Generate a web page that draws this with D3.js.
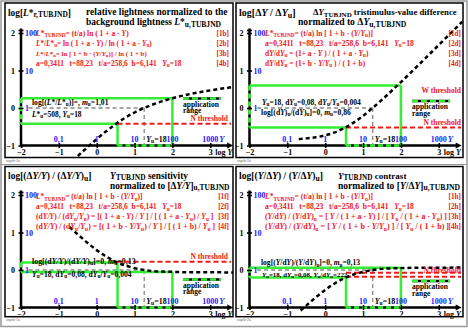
<!DOCTYPE html>
<html>
<head>
<meta charset="utf-8">
<script src="https://cdn.jsdelivr.net/npm/d3@7"></script>
<style>
  body { margin: 0; background: #fff; }
  svg text { font-family: "Liberation Serif", "Times New Roman", serif; font-weight: bold; white-space: pre; }
</style>
</head>
<body>
<div id="chart"></div>
<script>
// axis ticks and labels
const logTicks = [-2, -1, 0, 1, 2, 3];
const valueTicks = [-1, 0, 1, 2];
const blueXTicks = [-1, 0, 1, 2, 3];
const blueXLabels = ['0,1', '1', '10', '100', '1000'];
const blueYTicks = [0, 1, 2];
const blueYLabels = ['1', '10', '100'];
const logYu = 1.255;              // Yu = 18
const appRange = [0.55, 2.0];     // logY of application range

// curves [logY, value]
const lightnessCurve = [[-0.5, -1.28], [-0.25, -1.05], [0, -0.83], [0.25, -0.62], [0.5, -0.43], [0.75, -0.26],
  [1, -0.12], [1.25, 0], [1.5, 0.1], [2, 0.26], [2.5, 0.38], [3, 0.47], [3.62, 0.56]];
const differenceCurve = [[-0.7, -0.83], [-0.5, -0.81], [-0.25, -0.78], [0, -0.73], [0.25, -0.65], [0.5, -0.54],
  [0.75, -0.39], [1, -0.21], [1.25, 0], [1.5, 0.22], [2, 0.69], [2.5, 1.18], [3, 1.68], [3.62, 2.3]];
const sensitivityCurve = [[-0.72, 1.15], [-0.5, 0.95], [-0.25, 0.73], [0, 0.53], [0.25, 0.36], [0.5, 0.22],
  [0.75, 0.12], [1, 0.05], [1.25, 0], [1.5, -0.03], [2, -0.05], [2.5, -0.06], [3, -0.06], [3.62, -0.07]];
const contrastCurve = [[-0.65, -1.08], [-0.5, -0.95], [-0.25, -0.73], [0, -0.53], [0.25, -0.36], [0.5, -0.22],
  [0.75, -0.12], [1, -0.05], [1.25, 0], [1.5, 0.03], [2, 0.05], [2.5, 0.06], [3, 0.06], [3.62, 0.07]];

// green band levels at the two ends of the application range
const lightnessBand = [-0.42, 0.26];
const differenceBand = [-0.52, 0.6];
const sensitivityBand = [0.2, -0.05];
const contrastBand = [-0.2, 0.06];

// red threshold levels
const lightnessN = [-0.42];
const differenceN = [-0.52];
const sensitivityN = [0.22];
const contrastN = [-0.07, -0.18];

const abc = 'a=0,3411   t=88,23   t/a=258,6  b=6,141   <i>Y</i><sub>u</sub>=18';
const lstarB = '<i>L</i>*<sub>TUBJND</sub>= (t/a) ln [ 1 + b · (<i>Y</i>/<i>Y</i><sub>u</sub>)]';

// layout: [x, text, fitted width]
const panels = [
  {
    id: 'tl', frame: [5, 3, 228, 154.5], ax: 21, y0: 108, tag: 'ospth-1a',
    curve: lightnessCurve, band: lightnessBand, nLevels: lightnessN,
    title: ['log[<i>L</i>*<sub>r,TUBJND</sub>]', 63],
    head: [[86, 'relative lightness normalized to the', 141.7], [86, 'background lightness <i>L</i>*<sub>u,TUBJND</sub>', 135.7]],
    fx: 36, tx: 229,
    formulas: [
      ['<i>L</i>*<sub>TUBJND</sub>= (t/a) ln ( 1 + a · <i>Y</i>)', '[1b]', 94.3],
      ['<i>L</i>*/<i>L</i>*<sub>u</sub>= ln ( 1 + a · <i>Y</i>) / ln ( 1 + a · <i>Y</i><sub>u</sub>)', '[2b]', 117.3],
      ['<i>L</i>*/<i>L</i>*<sub>u</sub>= ln [ 1 + b · (<i>Y</i>/<i>Y</i><sub>u</sub>)] / ln ( 1 + b)', '[3b]', 112.3],
      [abc, '[4b]', 145.7]
    ],
    notes: [[32, 104.5, 'log[(<i>L</i>*/<i>L</i>*<sub>u</sub>)]=, <i>m</i><sub>u</sub>=1,01', 76.6],
            [32, 117, '<i>L</i>*<sub>u</sub>=508, <i>Y</i><sub>u</sub>=18', 50.7]],
    legend: [183, 98.5], labels: [[228, 121, 'N threshold']]
  },
  {
    id: 'tr', frame: [236, 3, 227, 154.5], ax: 249.5, y0: 108, tag: 'ospth-2a',
    curve: differenceCurve, band: differenceBand, nLevels: differenceN,
    title: ['log[Δ<i>Y</i> / Δ<i>Y</i><sub>u</sub>]', 56.7],
    head: [[313, 'Δ<i>Y</i><sub>TUBJND</sub> tristimulus-value difference', 143.7], [298, 'normalized to Δ<i>Y</i><sub>u,TUBJND</sub>', 109]],
    fx: 265, tx: 461,
    formulas: [
      [lstarB, '[1d]', 109],
      [abc, '[2d]', 149],
      ['d<i>Y</i>/d<i>Y</i><sub>u</sub> = (1+ a · <i>Y</i> ) / ( 1 + a · <i>Y</i><sub>u</sub>)', '[3d]', 104],
      ['d<i>Y</i>/d<i>Y</i><sub>u</sub> = (1+ b · <i>Y</i>/<i>Y</i><sub>u</sub> ) / ( 1 + b)', '[4d]', 100.7]
    ],
    notes: [[262, 104.7, '<i>Y</i><sub>u</sub>=18, d<i>Y</i><sub>u</sub>=0,08, d<i>Y</i><sub>u</sub>/<i>Y</i><sub>u</sub>=0,004', 99],
            [261, 114.5, 'log[(d<i>Y</i>)<sub>u</sub>/(d<i>Y</i>)<sub>u</sub>]=0, <i>m</i><sub>u</sub>=0,86', 90]],
    legend: [412, 101], labels: [[461, 92.7, 'W threshold'], [461, 125.3, 'N threshold']]
  },
  {
    id: 'bl', frame: [5, 166.5, 228, 150.2], ax: 21, y0: 270, tag: 'ospth-1a',
    curve: sensitivityCurve, band: sensitivityBand, nLevels: sensitivityN,
    title: ['log[(Δ<i>Y/Y</i>) / (Δ<i>Y/Y</i>)<sub>u</sub>]', 83.4],
    head: [[110, '<i>Y</i><sub>TUBJND</sub> sensitivity', 78.3], [110, 'normalized to [Δ<i>Y/Y</i>]<sub>u,TUBJND</sub>', 120]],
    fx: 36, tx: 229,
    formulas: [
      [lstarB, '[1f]', 107.7],
      [abc, '[2f]', 145.7],
      ['(d<i>Y/Y</i>) / (d<i>Y</i><sub>u</sub>/<i>Y</i><sub>u</sub>) = [( 1 + a · <i>Y</i>) / <i>Y</i> ] / [ ( 1 + a · <i>Y</i><sub>u</sub>) / <i>Y</i><sub>u</sub> ]', '[3f]', 177.3],
      ['(d<i>Y/Y</i>) / (d<i>Y</i><sub>u</sub>/<i>Y</i><sub>u</sub>) = [( 1 + b · <i>Y</i>/<i>Y</i><sub>u</sub>) / <i>Y</i> ] / [ ( 1 + b) / <i>Y</i><sub>u</sub> ]', '[4f]', 179]
    ],
    notes: [[32, 263.5, 'log[(d<i>Y/Y</i>)/(d<i>Y/Y</i>)<sub>u</sub>]=0, <i>m</i><sub>u</sub>=0,13', 104],
            [32, 276.7, '<i>Y</i><sub>u</sub>=18, d<i>Y</i><sub>u</sub>=0,08, d<i>Y</i><sub>u</sub>/<i>Y</i><sub>u</sub>=0,004', 99.7]],
    legend: [183, 279.5], labels: [[228, 259.3, 'N threshold']]
  },
  {
    id: 'br', frame: [236, 166.5, 227, 150.2], ax: 249.5, y0: 270, tag: 'ospth-2a',
    curve: contrastCurve, band: contrastBand, nLevels: contrastN,
    title: ['log[(<i>Y</i>/Δ<i>Y</i>) / (<i>Y</i>/Δ<i>Y</i>)<sub>u</sub>]', 84],
    head: [[338, '<i>Y</i><sub>TUBJND</sub> contrast', 69.3], [338, 'normalized to [<i>Y</i>/Δ<i>Y</i>]<sub>u,TUBJND</sub>', 122.7]],
    fx: 265, tx: 461,
    formulas: [
      [lstarB, '[1h]', 109],
      [abc, '[2h]', 149],
      ['(<i>Y</i>/d<i>Y</i>) / (<i>Y</i>/d<i>Y</i>)<sub>u</sub> = [ <i>Y</i> / ( 1 + a · <i>Y</i>) ] / [ <i>Y</i><sub>u</sub> / ( 1 + a · <i>Y</i><sub>u</sub>) ]', '[3h]', 182],
      ['(<i>Y</i>/d<i>Y</i>) / (<i>Y</i>/d<i>Y</i>)<sub>u</sub> = [ <i>Y</i> / ( 1 + b · <i>Y</i>/<i>Y</i><sub>u</sub>) ] / [ <i>Y</i><sub>u</sub> / ( 1 + b) ]', '[4h]', 184]
    ],
    notes: [[261, 265, 'log[(<i>Y</i>/d<i>Y</i>)/(<i>Y</i>/d<i>Y</i>)<sub>u</sub>]=0, <i>m</i><sub>u</sub>=0,13', 99.3],
            [262, 276.5, '<i>Y</i><sub>u</sub>=18, d<i>Y</i><sub>u</sub>=0,08, <i>Y</i><sub>u</sub>/d<i>Y</i><sub>u</sub>=222', 85.6]],
    legend: [412, 281], labels: [[461, 273.3, 'N threshold']]
  }
];

const UNIT_X = 37.85;
const UNIT_Y = 37.5;
const GREEN = '#33ee33';
const RED = '#f01818';
const BLUE = '#2020ff';

const svg = d3.select('#chart').append('svg').attr('width', 468).attr('height', 328);

svg.append('rect')
  .attr('x', 1).attr('y', 1).attr('width', 466).attr('height', 325.5)
  .attr('fill', 'none').attr('stroke', '#999').attr('stroke-width', 1.5);
svg.append('line')
  .attr('x1', 1).attr('x2', 467).attr('y1', 164.5).attr('y2', 164.5)
  .attr('stroke', '#999').attr('stroke-width', 1.2);

// text with <i> and <sub> markup
function rich(sel, str, size, subRatio) {
  const parts = str.split(/(<\/?(?:i|sub)>)/).filter(s => s !== '');
  let ital = false;
  let sub = false;
  let shift = 0;
  sel.style('font-size', size + 'px');
  parts.forEach(p => {
    if (p === '<i>') ital = true;
    else if (p === '</i>') ital = false;
    else if (p === '<sub>') sub = true;
    else if (p === '</sub>') sub = false;
    else {
      const want = sub ? size * 0.2 : 0;
      sel.append('tspan')
        .attr('dy', want - shift)
        .style('font-style', ital ? 'italic' : 'normal')
        .style('font-size', (sub ? size * subRatio : size) + 'px')
        .text(p);
      shift = want;
    }
  });
  return sel;
}

// fitW: squeeze or stretch the font so the text spans the width seen in the picture
function label(g, x, y, str, size, color, anchor, fitW, subRatio) {
  const ratio = subRatio || 0.7;
  const t = g.append('text')
    .attr('x', x).attr('y', y)
    .attr('fill', color || '#000')
    .attr('text-anchor', anchor || 'start');
  rich(t, str, size, ratio);
  if (fitW) {
    const w = t.node().getBBox().width;
    if (w > 0) {
      t.selectAll('tspan').remove();
      rich(t, str, size * fitW / w, ratio);
    }
  }
  return t;
}

function drawPanel(p) {
  const g = svg.append('g');
  const [fx, fy, fw, fh] = p.frame;
  const x = d3.scaleLinear().domain([-2, 3]).range([p.ax, p.ax + 5 * UNIT_X]);
  const y = d3.scaleLinear().domain([-1, 2]).range([p.y0 + UNIT_Y, p.y0 - 2 * UNIT_Y]);

  g.append('clipPath').attr('id', 'clip-' + p.id)
    .append('rect').attr('x', fx).attr('y', fy).attr('width', fw).attr('height', fh);

  g.append('rect')
    .attr('x', fx).attr('y', fy).attr('width', fw).attr('height', fh)
    .attr('fill', 'none').attr('stroke', '#000').attr('stroke-width', 1.5);

  g.append('text')
    .attr('x', fx + 1).attr('y', fy + fh + 4.5)
    .attr('fill', '#666').style('font-size', '4px').style('font-weight', 'normal')
    .text(p.tag);

  // axis lines
  g.append('line')
    .attr('x1', x(-2)).attr('x2', x(3.5)).attr('y1', y(-1)).attr('y2', y(-1))
    .attr('stroke', '#000').attr('stroke-width', 2.5);
  g.append('path')
    .attr('d', `M${x(3.5) + 4},${y(-1)} l-6,-3 l0,6 z`).attr('fill', '#000');
  g.append('line')
    .attr('x1', x(-2)).attr('x2', x(-2)).attr('y1', y(-1)).attr('y2', y(2.12))
    .attr('stroke', '#000').attr('stroke-width', 2.5);

  // gray reference lines at Yu
  const gray = g.append('g').attr('stroke', '#888').attr('stroke-width', 1.3)
    .attr('stroke-dasharray', '4,3').attr('fill', 'none');
  gray.append('line').attr('x1', x(-1.8)).attr('x2', x(logYu)).attr('y1', y(0)).attr('y2', y(0));
  gray.append('line').attr('x1', x(logYu)).attr('x2', x(logYu)).attr('y1', y(0)).attr('y2', y(-1));

  // green application range box
  const green = g.append('g').attr('stroke', GREEN).attr('stroke-width', 2.5).attr('fill', 'none');
  appRange.forEach((lx, i) => {
    green.append('line').attr('x1', x(-2)).attr('x2', x(lx)).attr('y1', y(p.band[i])).attr('y2', y(p.band[i]));
    green.append('line').attr('x1', x(lx)).attr('x2', x(lx)).attr('y1', y(p.band[i])).attr('y2', y(-1));
  });
  const dashG = g.append('g').attr('stroke', GREEN).attr('stroke-width', 2.6).attr('stroke-dasharray', '5,3');
  dashG.append('line').attr('x1', x(appRange[0])).attr('x2', x(appRange[1])).attr('y1', y(-1)).attr('y2', y(-1));
  dashG.append('line').attr('x1', x(-2)).attr('x2', x(-2))
    .attr('y1', y(d3.max(p.band))).attr('y2', y(d3.min(p.band)));

  // red thresholds
  p.nLevels.forEach(v => {
    g.append('line')
      .attr('x1', x(appRange[0])).attr('x2', fx + fw - 2).attr('y1', y(v)).attr('y2', y(v))
      .attr('stroke', RED).attr('stroke-width', 2).attr('stroke-dasharray', '5,3');
  });

  // curve
  const line = d3.line().x(d => x(d[0])).y(d => y(d[1])).curve(d3.curveMonotoneX);
  g.append('path')
    .datum(p.curve)
    .attr('clip-path', `url(#clip-${p.id})`)
    .attr('d', line)
    .attr('fill', 'none').attr('stroke', '#000').attr('stroke-width', 2.5).attr('stroke-dasharray', '4,3');

  // ticks and black labels
  const fmt = d => (d < 0 ? '\u2212' + Math.abs(d) : String(d));
  const xAxis = g.append('g')
    .attr('transform', `translate(0,${y(-1) - 2.5})`)
    .call(d3.axisBottom(x).tickValues(logTicks).tickSize(5).tickPadding(1).tickFormat(fmt));
  const yAxis = g.append('g')
    .attr('transform', `translate(${x(-2) + 2.5},0)`)
    .call(d3.axisLeft(y).tickValues(valueTicks).tickSize(5).tickPadding(3.5).tickFormat(fmt));
  [xAxis, yAxis].forEach(a => {
    a.select('.domain').remove();
    a.selectAll('line').attr('stroke', '#000').attr('stroke-width', 1.6);
    a.selectAll('text')
      .attr('fill', '#000')
      .style('font-family', '"Liberation Serif", serif')
      .style('font-weight', 'bold')
      .style('font-size', '8px');
  });
  g.append('line')
    .attr('x1', x(-2) - 2.5).attr('x2', x(-2) + 2.5).attr('y1', y(2) - 2.5).attr('y2', y(2) - 2.5)
    .attr('stroke', '#000').attr('stroke-width', 1.6);
  label(g, x(3) + 5, y(-1) + 9.5, 'log <i>Y</i>', 8);

  // blue labels
  blueXTicks.forEach((v, i) => {
    label(g, x(v), y(-1) - 4, blueXLabels[i], 8, BLUE, 'middle');
  });
  label(g, x(3) + 9, y(-1) - 4, '<i>Y</i>', 8.5, BLUE);
  blueYTicks.forEach((v, i) => {
    label(g, x(-2) + 4, y(v) + 3, blueYLabels[i], 8, BLUE);
  });
  label(g, x(logYu) + 2, y(-1) - 4, '<i>Y</i><sub>u</sub>=18', 8);

  // title and heading
  label(g, fx + 3, fy + 12.5, p.title[0], 9.5, '#000', 'start', p.title[1], 0.8);
  p.head.forEach((h, i) => label(g, h[0], fy + 12 + 10 * i, h[1], 9.5, '#000', 'start', h[2], 0.8));

  // formulas
  p.formulas.forEach((f, i) => {
    const by = fy + 32.7 + 10 * i;
    label(g, p.fx, by, f[0], 7.2, RED, 'start', f[2]);
    label(g, p.tx, by, f[1], 7.2, RED, 'end');
  });

  // notes
  p.notes.forEach(n => label(g, n[0], n[1], n[2], 7.8, '#000', 'start', n[3]));

  // threshold labels
  p.labels.forEach(l => label(g, l[0], l[1], l[2], 7.5, RED, 'end'));

  // legend
  const [lx, ly] = p.legend;
  g.append('line').attr('x1', lx).attr('x2', lx + 38).attr('y1', ly).attr('y2', ly)
    .attr('stroke', '#000').attr('stroke-width', 2.5);
  g.append('line').attr('x1', lx).attr('x2', lx + 38).attr('y1', ly).attr('y2', ly)
    .attr('stroke', GREEN).attr('stroke-width', 2.6).attr('stroke-dasharray', '6,3');
  label(g, lx, ly + 8, 'application', 7.5);
  label(g, lx, ly + 14.7, 'range', 7.5);
}

panels.forEach(drawPanel);
</script>
</body>
</html>
